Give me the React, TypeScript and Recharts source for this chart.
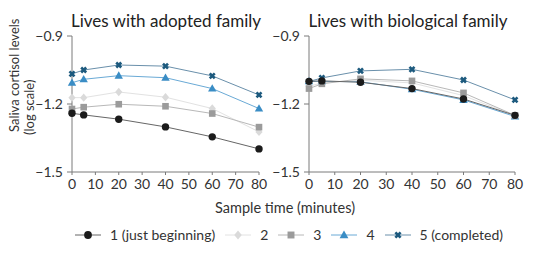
import React from "react";
import { LineChart, Line, XAxis, YAxis } from "recharts";

// ----------------------------------------------------------------------------
// Data
// ----------------------------------------------------------------------------

const TIMES = [0, 5, 20, 40, 60, 80];
const X_TICKS = [0, 10, 20, 30, 40, 50, 60, 70, 80];
const Y_TICKS = [-1.5, -1.2, -0.9];

const SERIES_NAMES = ["1 (just beginning)", "2", "3", "4", "5 (completed)"];

const ADOPTED_1 = [-1.241, -1.248, -1.267, -1.301, -1.345, -1.398];
const ADOPTED_2 = [-1.172, -1.172, -1.147, -1.17, -1.22, -1.323];
const ADOPTED_3 = [-1.222, -1.214, -1.201, -1.21, -1.242, -1.302];
const ADOPTED_4 = [-1.106, -1.091, -1.075, -1.084, -1.132, -1.22];
const ADOPTED_5 = [-1.067, -1.05, -1.028, -1.033, -1.076, -1.16];

const BIOLOGICAL_1 = [-1.1, -1.098, -1.104, -1.132, -1.178, -1.25];
const BIOLOGICAL_2 = [-1.122, -1.107, -1.095, -1.107, -1.163, -1.252];
const BIOLOGICAL_3 = [-1.132, -1.111, -1.089, -1.098, -1.151, -1.25];
const BIOLOGICAL_4 = [-1.1, -1.1, -1.102, -1.135, -1.182, -1.255];
const BIOLOGICAL_5 = [-1.101, -1.085, -1.054, -1.047, -1.094, -1.182];

// ----------------------------------------------------------------------------
// Styling
// ----------------------------------------------------------------------------

const FONT = "Lato, 'Open Sans', sans-serif";
const TEXT = "#333";
const AXIS = "#7a7a7a";

type Shape = "circle" | "diamond" | "square" | "triangle" | "cross";

const SERIES_STYLE: { key: string; shape: Shape; marker: string; line: string }[] = [
  { key: "s1", shape: "circle", marker: "#1b1b1b", line: "#666666" },
  { key: "s2", shape: "diamond", marker: "#dadada", line: "#e2e2e2" },
  { key: "s3", shape: "square", marker: "#9b9b9b", line: "#b8b8b8" },
  { key: "s4", shape: "triangle", marker: "#3a8dc5", line: "#6aaad6" },
  { key: "s5", shape: "cross", marker: "#1d5a7e", line: "#6a90ab" },
];

// draw order: blue triangles beneath, black circles on top
const DRAW_ORDER = [3, 4, 1, 2, 0];

function buildRows(series: number[][]) {
  return TIMES.map((t, i) => {
    const row: Record<string, number> = { t };
    series.forEach((vals, s) => {
      row[`s${s + 1}`] = vals[i];
    });
    return row;
  });
}

const ADOPTED_DATA = buildRows([ADOPTED_1, ADOPTED_2, ADOPTED_3, ADOPTED_4, ADOPTED_5]);
const BIOLOGICAL_DATA = buildRows([
  BIOLOGICAL_1,
  BIOLOGICAL_2,
  BIOLOGICAL_3,
  BIOLOGICAL_4,
  BIOLOGICAL_5,
]);

const fmtMinus = (v: number) => v.toFixed(1).replace("-", "\u2212");

// ----------------------------------------------------------------------------
// Markers
// ----------------------------------------------------------------------------

function Marker({
  cx,
  cy,
  shape,
  color,
  size = 1,
}: {
  cx: number;
  cy: number;
  shape: Shape;
  color: string;
  size?: number;
}) {
  if (cx == null || cy == null) return null;
  const k = size;
  switch (shape) {
    case "circle":
      return <circle cx={cx} cy={cy} r={3.7 * k} fill={color} />;
    case "diamond":
      return (
        <path
          d={`M${cx},${cy - 4.2 * k}L${cx + 3.6 * k},${cy}L${cx},${cy + 4.2 * k}L${cx - 3.6 * k},${cy}Z`}
          fill={color}
        />
      );
    case "square":
      return <rect x={cx - 3.3 * k} y={cy - 3.3 * k} width={6.6 * k} height={6.6 * k} fill={color} />;
    case "triangle":
      return (
        <path
          d={`M${cx},${cy - 4.3 * k}L${cx + 4.2 * k},${cy + 3 * k}L${cx - 4.2 * k},${cy + 3 * k}Z`}
          fill={color}
        />
      );
    case "cross":
      return (
        <g stroke={color} strokeWidth={2.6 * k} strokeLinecap="butt">
          <line x1={cx - 2.5 * k} y1={cy - 2.5 * k} x2={cx + 2.5 * k} y2={cy + 2.5 * k} />
          <line x1={cx - 2.5 * k} y1={cy + 2.5 * k} x2={cx + 2.5 * k} y2={cy - 2.5 * k} />
        </g>
      );
  }
  return null;
}

// ----------------------------------------------------------------------------
// Panel
// ----------------------------------------------------------------------------

function Panel({
  data,
  yAxisWidth,
  marginRight,
}: {
  data: Record<string, number>[];
  yAxisWidth: number;
  marginRight: number;
}) {
  return (
    <LineChart
      width={270}
      height={200}
      data={data}
      margin={{ top: 36, right: marginRight, bottom: 0, left: 0 }}
    >
      <XAxis
        dataKey="t"
        type="number"
        domain={[0, 80]}
        ticks={X_TICKS}
        interval={0}
        height={28}
        stroke={AXIS}
        tickSize={3}
        tickMargin={4}
        tick={{ fontSize: 14, fill: TEXT, fontFamily: FONT }}
      />
      <YAxis
        type="number"
        domain={[-1.5, -0.9]}
        ticks={Y_TICKS}
        interval={0}
        width={yAxisWidth}
        stroke={AXIS}
        tickSize={5}
        tickMargin={4}
        tickFormatter={fmtMinus}
        tick={{ fontSize: 14, fill: TEXT, fontFamily: FONT }}
      />
      {DRAW_ORDER.map((idx) => {
        const s = SERIES_STYLE[idx];
        return (
          <Line
            key={s.key}
            dataKey={s.key}
            type="linear"
            stroke={s.line}
            strokeWidth={1}
            isAnimationActive={false}
            activeDot={false}
            dot={(props: any) => (
              <Marker
                key={`${s.key}-${props.index}`}
                cx={props.cx}
                cy={props.cy}
                shape={s.shape}
                color={s.marker}
              />
            )}
          />
        );
      })}
    </LineChart>
  );
}

// ----------------------------------------------------------------------------
// Legend
// ----------------------------------------------------------------------------

function LegendRow() {
  return (
    <div
      style={{
        position: "absolute",
        left: 75,
        top: 226,
        display: "flex",
        alignItems: "center",
        fontFamily: FONT,
        fontSize: 14,
        color: TEXT,
        whiteSpace: "nowrap",
      }}
    >
      {SERIES_STYLE.map((s, i) => (
        <div key={s.key} style={{ display: "flex", alignItems: "center", marginRight: 10 }}>
          <svg width={26} height={14} style={{ display: "block" }}>
            <line x1={0} y1={7} x2={26} y2={7} stroke={s.line} strokeWidth={1} />
            <Marker cx={13} cy={7} shape={s.shape} color={s.marker} size={1.05} />
          </svg>
          <span style={{ marginLeft: 9 }}>{SERIES_NAMES[i]}</span>
        </div>
      ))}
    </div>
  );
}

// ----------------------------------------------------------------------------
// App
// ----------------------------------------------------------------------------

export default function App() {
  return (
    <div
      style={{
        position: "absolute",
        left: 0,
        top: 0,
        width: 540,
        height: 264,
        background: "#fff",
        fontFamily: FONT,
        overflow: "hidden",
      }}
    >
      <div style={{ position: "absolute", left: 0, top: 0 }}>
        <Panel data={ADOPTED_DATA} yAxisWidth={72} marginRight={11} />
      </div>
      <div style={{ position: "absolute", left: 270, top: 0 }}>
        <Panel data={BIOLOGICAL_DATA} yAxisWidth={39} marginRight={25} />
      </div>

      <svg
        width={540}
        height={264}
        style={{ position: "absolute", left: 0, top: 0, pointerEvents: "none" }}
        fontFamily={FONT}
      >
        <text x={166} y={27} textAnchor="middle" fontSize={17} fill="#222">
          Lives with adopted family
        </text>
        <text x={408} y={27} textAnchor="middle" fontSize={17} fill="#222">
          Lives with biological family
        </text>
        <text
          x={19}
          y={132}
          fontSize={13}
          fill={TEXT}
          transform="rotate(-90, 19, 132)"
          textAnchor="start"
        >
          Saliva cortisol levels
        </text>
        <text
          x={34}
          y={135}
          fontSize={13}
          fill={TEXT}
          transform="rotate(-90, 34, 135)"
          textAnchor="start"
        >
          (log scale)
        </text>
        <text x={285} y={213} textAnchor="middle" fontSize={14.5} fill={TEXT}>
          Sample time (minutes)
        </text>
      </svg>

      <LegendRow />
    </div>
  );
}
